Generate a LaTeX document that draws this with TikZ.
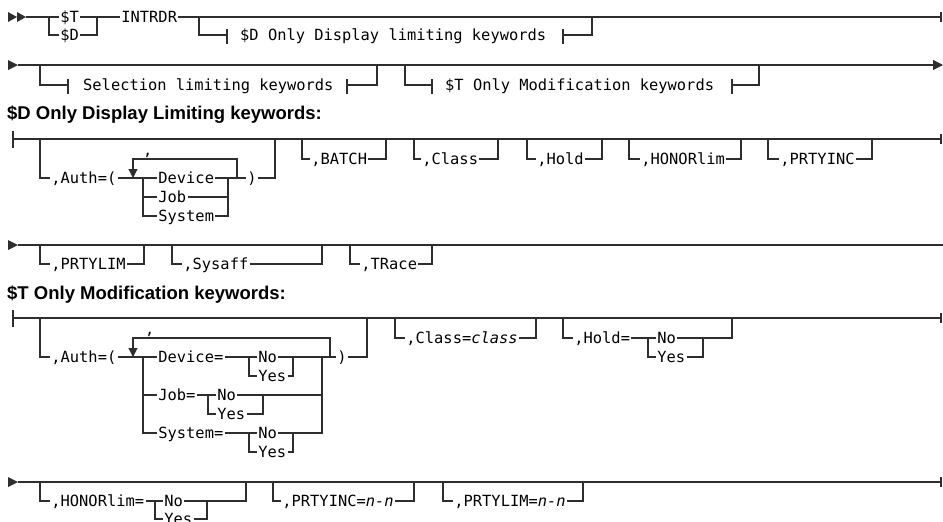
\documentclass[tikz,border=0pt]{standalone}
\usepackage{fontspec}
\setmainfont{Liberation Sans}
\setmonofont{DejaVu Sans Mono}
\usepackage{tikz}
\usetikzlibrary{arrows.meta}
\definecolor{Ink}{HTML}{2E2E2E}
\tikzset{
  rail/.style={draw=Ink,line width=1.1pt},
  kw/.style={font=\fontsize{15.4}{18}\ttfamily,inner xsep=1.2pt,inner ysep=0pt,text height=11pt,text depth=0pt,anchor=west},
  fragref/.style={kw,inner xsep=0pt},
  sepmark/.style={kw,anchor=base west,inner xsep=0pt},
  heading/.style={font=\fontsize{18.5}{22}\selectfont\bfseries,anchor=base west,inner sep=0pt},
  gate/.style={draw=Ink,line width=1.1pt},
  endbar/.style={draw=Ink,line width=2.4pt},
  repeatarrow/.style={rail,-{Triangle[length=9pt,width=9pt]}},
  goon/.style={rail,-{Triangle[length=10pt,width=10pt]}},
  starttip/.style={fill=Ink}
}

\begin{document}
\begin{tikzpicture}[x=1pt,y=-1pt]
  \useasboundingbox (0,0) rectangle (943,522);

  \fill[starttip] (8,12) -- (17,17) -- (8,22) -- cycle (17,12) -- (26,17) -- (17,22) -- cycle;
  \node[kw] (tsys) at (59,17) {\$T};
  \node[kw] (dsys) at (59,35) {\$D};
  \node[kw] (intrdr) at (120,17) {INTRDR};
  \node[fragref] (dfrag) at (240,35) {\$D Only Display limiting keywords};
  \draw[rail] (26,17) -- (tsys.west);
  \draw[rail] (49,17) |- (dsys.west);
  \draw[rail] (tsys.east) -- (intrdr.west);
  \draw[rail] (dsys.east) -| (97,17);
  \draw[rail] (intrdr.east) -- (941,17);
  \draw[endbar] (941,12) -- (941,22);
  \draw[rail] (199,17) |- (227,35);
  \draw[gate] (227,29) -- (227,44) (563,29) -- (563,44);
  \draw[rail] (563,35) -| (592,17);

  \fill[starttip] (8,60) -- (18,65) -- (8,70) -- cycle;
  \draw[goon] (18,65) -- (943,65);
  \node[fragref] (selfrag) at (83,85) {Selection limiting keywords};
  \node[fragref] (tfrag) at (445,85) {\$T Only Modification keywords};
  \draw[rail] (40,65) |- (68,85);
  \draw[gate] (68,79) -- (68,94) (347,79) -- (347,94);
  \draw[rail] (347,85) -| (377,65);
  \draw[rail] (405,65) |- (432,85);
  \draw[gate] (432,79) -- (432,94) (732,79) -- (732,94);
  \draw[rail] (732,85) -| (759,65);

  \node[heading] (dhead) at (7,119.5) {\$D Only Display Limiting keywords:};
  \draw[gate] (13,131) -- (13,148);
  \draw[rail] (13,139) -- (941,139);
  \draw[endbar] (941,134) -- (941,144);
  \node[kw] (dauth) at (50,178) {,Auth=(};
  \node[sepmark] (dsep) at (143,155) {,};
  \node[kw] (ddev) at (157,178) {Device};
  \node[kw] (djob) at (157,197) {Job};
  \node[kw] (dsysn) at (157,216) {System};
  \node[kw] (drpar) at (246,178) {)};
  \draw[rail] (40,139) |- (dauth.west);
  \draw[rail] (dauth.east) -- (ddev.west);
  \draw[rail] (143,178) |- (djob.west);
  \draw[rail] (143,178) |- (dsysn.west);
  \draw[rail] (djob.east) -| (228,178);
  \draw[rail] (dsysn.east) -| (228,178);
  \draw[rail] (ddev.east) -- (drpar.west);
  \draw[repeatarrow] (237,178) |- (133,159) -- (133,178);
  \draw[rail] (drpar.east) -| (275,139);
  \node[kw] (batch) at (310,159) {,BATCH};
  \draw[rail] (302,139) |- (batch.west);
  \draw[rail] (batch.east) -| (386,139);
  \node[kw] (dclass) at (421,159) {,Class};
  \draw[rail] (414,139) |- (dclass.west);
  \draw[rail] (dclass.east) -| (498,139);
  \node[kw] (dhold) at (536,159) {,Hold};
  \draw[rail] (527,139) |- (dhold.west);
  \draw[rail] (dhold.east) -| (602,139);
  \node[kw] (dhonor) at (640,159) {,HONORlim};
  \draw[rail] (629,139) |- (dhonor.west);
  \draw[rail] (dhonor.east) -| (741,139);
  \node[kw] (dinc) at (779,159) {,PRTYINC};
  \draw[rail] (768,139) |- (dinc.west);
  \draw[rail] (dinc.east) -| (872,139);

  \fill[starttip] (8,240) -- (18,245) -- (8,250) -- cycle;
  \draw[rail] (18,245) -- (943,245);
  \node[kw] (dlim) at (50,264) {,PRTYLIM};
  \draw[rail] (40,245) |- (dlim.west);
  \draw[rail] (dlim.east) -| (144,245);
  \node[kw] (sysaff) at (182,264) {,Sysaff};
  \draw[rail] (172,245) |- (sysaff.west);
  \draw[rail] (sysaff.east) -| (322,245);
  \node[kw] (trace) at (360,264) {,TRace};
  \draw[rail] (350,245) |- (trace.west);
  \draw[rail] (trace.east) -| (432,245);

  \node[heading] (thead) at (7,299) {\$T Only Modification keywords:};
  \draw[gate] (13,310) -- (13,327);
  \draw[rail] (13,318) -- (941,318);
  \draw[endbar] (941,313) -- (941,323);
  \node[kw] (tauth) at (50,357) {,Auth=(};
  \node[sepmark] (tsep) at (145,334) {,};
  \node[kw] (tdev) at (157,357) {Device=};
  \node[kw] (tdevno) at (257,357) {No};
  \node[kw] (tdevyes) at (257,376) {Yes};
  \node[kw] (tjob) at (157,395) {Job=};
  \node[kw] (tjobno) at (216,395) {No};
  \node[kw] (tjobyes) at (216,414) {Yes};
  \node[kw] (tsysn) at (157,433) {System=};
  \node[kw] (tsysno) at (257,433) {No};
  \node[kw] (tsysyes) at (257,452) {Yes};
  \node[kw] (trpar) at (336,357) {)};
  \draw[rail] (40,318) |- (tauth.west);
  \draw[rail] (tauth.east) -- (tdev.west);
  \draw[rail] (143,357) |- (tjob.west);
  \draw[rail] (143,357) |- (tsysn.west);
  \draw[rail] (tdev.east) -- (tdevno.west);
  \draw[rail] (249,357) |- (tdevyes.west);
  \draw[rail] (tdevyes.east) -| (293,357);
  \draw[rail] (tdevno.east) -- (trpar.west);
  \draw[rail] (tjob.east) -- (tjobno.west);
  \draw[rail] (208,395) |- (tjobyes.west);
  \draw[rail] (tjobyes.east) -| (263,395);
  \draw[rail] (tjobno.east) -| (322,357);
  \draw[rail] (tsysn.east) -- (tsysno.west);
  \draw[rail] (249,433) |- (tsysyes.west);
  \draw[rail] (tsysyes.east) -| (293,433);
  \draw[rail] (tsysno.east) -| (322,357);
  \draw[repeatarrow] (330,357) |- (133,338) -- (133,357);
  \draw[rail] (trpar.east) -| (367,318);
  \node[kw] (tclass) at (405,338) {,Class=\textit{class}};
  \draw[rail] (395,318) |- (tclass.west);
  \draw[rail] (tclass.east) -| (536,318);
  \node[kw] (thold) at (573,338) {,Hold=};
  \node[kw] (tholdno) at (656,338) {No};
  \node[kw] (tholdyes) at (656,357) {Yes};
  \draw[rail] (563,318) |- (thold.west);
  \draw[rail] (thold.east) -- (tholdno.west);
  \draw[rail] (648,338) |- (tholdyes.west);
  \draw[rail] (tholdyes.east) -| (703,338);
  \draw[rail] (tholdno.east) -| (732,318);

  \fill[starttip] (8,477) -- (18,482) -- (8,487) -- cycle;
  \draw[rail] (18,482) -- (941,482);
  \draw[endbar] (941,477) -- (941,487);
  \node[kw] (thonor) at (50,501) {,HONORlim=};
  \node[kw] (thonorno) at (163,501) {No};
  \node[kw] (thonoryes) at (163,519) {Yes};
  \draw[rail] (40,482) |- (thonor.west);
  \draw[rail] (thonor.east) -- (thonorno.west);
  \draw[rail] (155,501) |- (thonoryes.west);
  \draw[rail] (thonoryes.east) -| (207,501);
  \draw[rail] (thonorno.east) -| (246,482);
  \node[kw] (tinc) at (281,501) {,PRTYINC=\textit{n-n}};
  \draw[rail] (273,482) |- (tinc.west);
  \draw[rail] (tinc.east) -| (414,482);
  \node[kw] (tlim) at (453,501) {,PRTYLIM=\textit{n-n}};
  \draw[rail] (443,482) |- (tlim.west);
  \draw[rail] (tlim.east) -| (583,482);
\end{tikzpicture}
\end{document}
